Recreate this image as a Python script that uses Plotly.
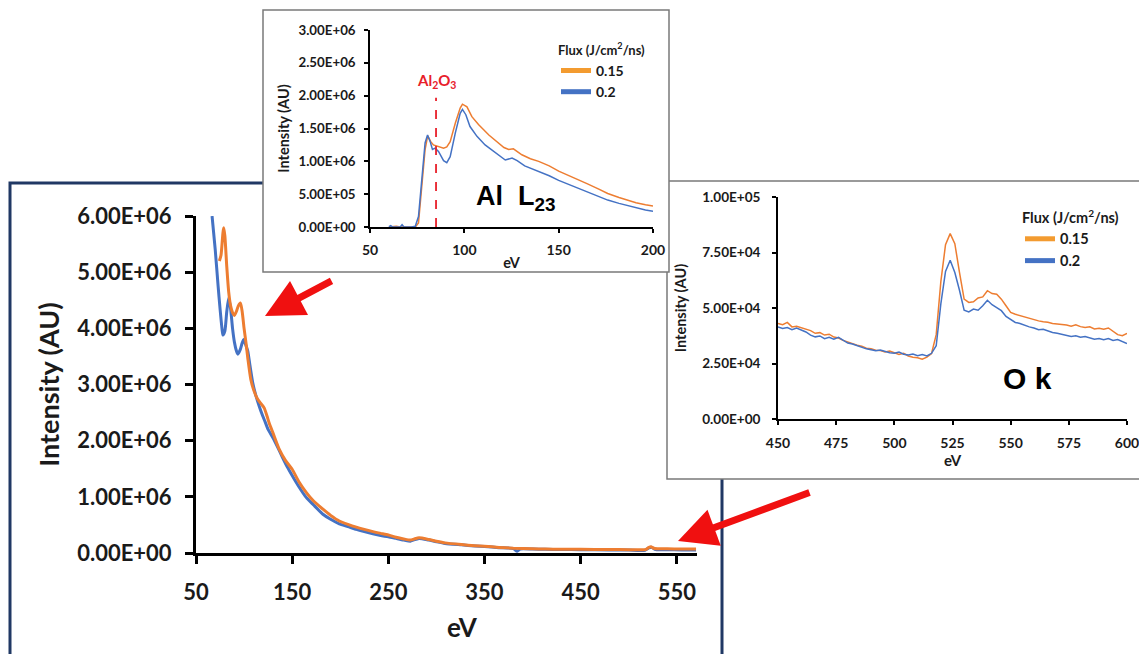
import plotly.graph_objects as go

W, H = 1139, 654

# ---------------- data ----------------
# Main spectrum (eV, intensity in units of 1e6)
MAIN_EV_BLUE = [66.7, 70, 73, 75, 77, 78, 80, 82, 84, 86, 88, 90, 92, 93.5, 96, 98, 99.7, 101, 103.8,
                106, 109, 112, 116, 119.4, 122, 125, 130, 135, 140, 145, 150, 157, 164.6, 172, 182,
                190, 199, 208, 216.7, 225, 234, 242, 250, 258, 266, 273, 276, 282, 292, 300, 309,
                326, 340, 350, 365, 380, 384, 387, 400, 413, 430, 450, 480, 500, 517, 521, 524, 528,
                540, 555, 570]
MAIN_I_BLUE = [6.00, 5.40, 4.75, 4.35, 4.00, 3.88, 3.95, 4.30, 4.54, 4.35, 4.00, 3.75, 3.60, 3.54, 3.62,
               3.74, 3.80, 3.74, 3.60, 3.35, 3.03, 2.82, 2.60, 2.44, 2.33, 2.20, 2.05, 1.88, 1.70, 1.53,
               1.38, 1.18, 0.99, 0.86, 0.69, 0.60, 0.52, 0.47, 0.42, 0.38, 0.34, 0.31, 0.29, 0.26,
               0.23, 0.21, 0.23, 0.26, 0.23, 0.20, 0.17, 0.145, 0.125, 0.115, 0.095, 0.08, 0.03,
               0.07, 0.07, 0.065, 0.062, 0.06, 0.055, 0.052, 0.05, 0.09, 0.10, 0.06, 0.06, 0.055,
               0.055]
MAIN_EV_ORANGE = [74.3, 76, 78, 78.8, 80, 82, 84, 86, 88, 89.9, 92, 94, 96.2, 98, 100, 102, 104, 107,
                  110, 114, 118, 121, 124, 126, 130, 136.5, 143, 150, 157, 164.6, 172, 182, 190, 199,
                  208, 216.7, 225, 234, 242, 250, 258, 266, 273, 277, 282, 292, 300, 309, 326, 340,
                  350, 365, 380, 400, 413, 430, 450, 480, 500, 517, 521, 523, 527, 540, 555, 570]
MAIN_I_ORANGE = [5.20, 5.30, 5.70, 5.79, 5.65, 5.10, 4.65, 4.40, 4.28, 4.23, 4.30, 4.40, 4.45, 4.30,
                 4.00, 3.74, 3.45, 3.09, 2.90, 2.74, 2.65, 2.58, 2.43, 2.32, 2.14, 1.85, 1.65, 1.49,
                 1.27, 1.08, 0.93, 0.78, 0.67, 0.57, 0.51, 0.46, 0.42, 0.38, 0.35, 0.32, 0.28, 0.25,
                 0.23, 0.25, 0.27, 0.24, 0.21, 0.18, 0.15, 0.13, 0.12, 0.10, 0.085, 0.075, 0.07,
                 0.068, 0.065, 0.062, 0.06, 0.06, 0.10, 0.11, 0.08, 0.075, 0.072, 0.07]

# Al L23 inset (eV, intensity in units of 1e6)
AL_EV_BLUE = [60, 61, 62, 66, 67, 68, 72, 74, 75.7, 77.4, 79.2, 80.5, 81.9, 83.1, 84.5, 86.3, 88, 89,
              90.7, 92.5, 95.2, 97.8, 99, 100.8, 103, 106.7, 111, 116.4, 121.7, 125.3, 128, 132,
              139.4, 145, 150, 155, 160.6, 165, 171, 176, 182, 186, 191, 196, 200]
AL_I_BLUE = [0.005, 0.02, 0.0, 0.0, 0.035, 0.0, 0.0, 0.01, 0.16, 0.77, 1.28, 1.40, 1.30, 1.18, 1.20,
             1.15, 1.05, 1.01, 0.98, 1.07, 1.43, 1.73, 1.79, 1.71, 1.53, 1.38, 1.25, 1.13, 1.02, 1.05,
             1.01, 0.93, 0.85, 0.78, 0.71, 0.65, 0.59, 0.54, 0.47, 0.41, 0.36, 0.33, 0.29, 0.26, 0.24]
AL_EV_ORANGE = [60, 64, 66, 72, 74, 75.7, 77.4, 79.2, 80.6, 82.2, 83.6, 86.3, 89, 90.7, 92.5, 95.2,
                97.8, 99, 101.4, 104, 107.5, 113, 118, 121, 123.5, 126, 130.5, 135, 139.4, 145, 150,
                155, 160.6, 165, 171, 176, 182, 186, 191, 196, 200]
AL_I_ORANGE = [0.0, 0.01, 0.0, 0.0, 0.0, 0.06, 0.57, 1.18, 1.39, 1.30, 1.25, 1.22, 1.20, 1.22, 1.30,
               1.58, 1.81, 1.87, 1.83, 1.68, 1.56, 1.40, 1.28, 1.21, 1.18, 1.19, 1.10, 1.04, 1.00,
               0.93, 0.85, 0.79, 0.72, 0.66, 0.58, 0.51, 0.45, 0.41, 0.37, 0.34, 0.32]
AL2O3_EV = 85
AL2O3_LINE_TOP = 1.97  # 1e6

# O K inset (eV, intensity in units of 1e3)
OK_EV = list(range(450, 601, 2))
OK_I_ORANGE = [43.0, 42.5, 43.5, 41.5, 41.8, 41.2, 40.3, 39.8, 38.6, 38.9, 37.8, 38.2, 36.9, 36.5,
               35.4, 34.6, 34.1, 33.2, 32.8, 31.9, 31.6, 31.0, 30.8, 30.2, 30.6, 29.8, 29.1, 29.6,
               28.4, 27.8, 27.6, 26.9, 27.9, 29.5, 38.0, 62.0, 78.5, 83.5, 79.0, 66.0, 54.0, 52.5,
               52.8, 54.5, 55.0, 57.8, 56.5, 56.2, 54.0, 51.0, 48.0, 47.2, 46.6, 45.8, 45.4, 44.9,
               44.2, 43.8, 43.6, 43.0, 42.8, 42.5, 42.3, 41.8, 42.4, 41.6, 41.2, 41.5, 40.6, 40.9,
               40.4, 41.0, 39.6, 38.0, 37.5, 38.6]
OK_I_BLUE = [41.5, 40.8, 41.2, 40.2, 41.0, 40.1, 39.2, 37.8, 37.0, 37.4, 36.2, 36.8, 35.9, 36.8,
             35.3, 34.2, 33.8, 33.0, 32.4, 31.6, 31.2, 30.8, 31.1, 30.3, 29.8, 29.6, 30.2, 29.2,
             28.8, 29.3, 28.5, 29.0, 28.4, 29.6, 33.0, 52.0, 66.5, 71.5, 66.0, 58.0, 49.0, 48.2,
             49.5, 49.0, 51.0, 53.5, 51.5, 50.2, 48.8, 46.2, 44.8, 43.5, 43.0, 42.2, 41.5, 41.0,
             40.2, 40.4, 39.6, 39.0, 38.6, 38.2, 37.9, 37.2, 37.5, 36.8, 37.2, 36.5, 35.9, 36.3,
             35.7, 36.2, 35.4, 35.8, 34.9, 34.0]

SERIES_NAMES = ["0.15", "0.2"]
LEGEND_TITLE = "Flux (J/cm<sup>2</sup>/ns)"

MAIN_X_TICKS = [50, 150, 250, 350, 450, 550]
MAIN_Y_TICKS = [0, 1e6, 2e6, 3e6, 4e6, 5e6, 6e6]
AL_X_TICKS = [50, 100, 150, 200]
AL_Y_TICKS = [0, 5e5, 1e6, 1.5e6, 2e6, 2.5e6, 3e6]
OK_X_TICKS = [450, 475, 500, 525, 550, 575, 600]
OK_Y_TICKS = [0, 2.5e4, 5e4, 7.5e4, 1e5]

# ---------------- style ----------------
ORANGE = "#ED7D31"
BLUE = "#4472C4"
ORANGE_LEG = "#F39B30"
FONT = "Lato"
TXT = "#1a1a1a"


def px_x(p):
    return p / W


def px_y(p):
    return 1 - p / H


def fmt(v):
    return f"{v:.2E}"


fig = go.Figure()

# main
fig.add_trace(go.Scatter(x=MAIN_EV_BLUE, y=[v * 1e6 for v in MAIN_I_BLUE], mode="lines",
                         line=dict(color=BLUE, width=3, shape="spline", smoothing=0.6),
                         showlegend=False, xaxis="x", yaxis="y"))
fig.add_trace(go.Scatter(x=MAIN_EV_ORANGE, y=[v * 1e6 for v in MAIN_I_ORANGE], mode="lines",
                         line=dict(color=ORANGE, width=3, shape="spline", smoothing=0.6),
                         showlegend=False, xaxis="x", yaxis="y"))

# Al inset
fig.add_trace(go.Scatter(x=AL_EV_ORANGE, y=[v * 1e6 for v in AL_I_ORANGE], mode="lines",
                         line=dict(color=ORANGE, width=1.5), showlegend=False,
                         xaxis="x2", yaxis="y2"))
fig.add_trace(go.Scatter(x=AL_EV_BLUE, y=[v * 1e6 for v in AL_I_BLUE], mode="lines",
                         line=dict(color=BLUE, width=1.5), showlegend=False,
                         xaxis="x2", yaxis="y2"))
fig.add_trace(go.Scatter(x=[AL2O3_EV, AL2O3_EV], y=[0, AL2O3_LINE_TOP * 1e6], mode="lines",
                         line=dict(color="#E8202A", width=1.8, dash="dash"), showlegend=False,
                         xaxis="x2", yaxis="y2"))

# O K inset
fig.add_trace(go.Scatter(x=OK_EV, y=[v * 1e3 for v in OK_I_ORANGE], mode="lines",
                         line=dict(color=ORANGE, width=1.5), showlegend=False,
                         xaxis="x3", yaxis="y3"))
fig.add_trace(go.Scatter(x=OK_EV, y=[v * 1e3 for v in OK_I_BLUE], mode="lines",
                         line=dict(color=BLUE, width=1.5), showlegend=False,
                         xaxis="x3", yaxis="y3"))

# legend entries
for leg, xa, ya in (("legend", "x2", "y2"), ("legend2", "x3", "y3")):
    for name, col in zip(SERIES_NAMES, [ORANGE_LEG, BLUE]):
        fig.add_trace(go.Scatter(x=[None], y=[None], mode="lines", name=name,
                                 line=dict(color=col, width=5), legend=leg,
                                 xaxis=xa, yaxis=ya))


def axis(domain, rng, tickvals, ticktext, anchor, font_size, lw, tlen, twidth,
         title=None, title_size=12, standoff=None, label_standoff=None):
    d = dict(domain=domain, range=rng, anchor=anchor, showline=True, linewidth=lw,
             linecolor="black", ticks="outside", ticklen=tlen, tickwidth=twidth,
             tickcolor="black", tickmode="array", tickvals=tickvals, ticktext=ticktext,
             tickfont=dict(family=FONT, size=font_size, color=TXT, weight="bold"),
             showgrid=False, zeroline=False, automargin=False, ticklabeloverflow="allow")
    if title:
        d["title"] = dict(text=title, font=dict(family=FONT, size=title_size, color=TXT,
                                                weight="bold"))
        if standoff is not None:
            d["title"]["standoff"] = standoff
    if label_standoff is not None:
        d["ticklabelstandoff"] = label_standoff
    return d


def overlay_axis(over, domain, rng, tickvals, anchor, tlen, twidth):
    return dict(overlaying=over, domain=domain, range=rng, anchor=anchor, showline=False,
                ticks="inside", ticklen=tlen, tickwidth=twidth, tickcolor="black",
                tickmode="array", tickvals=tickvals, showticklabels=False,
                showgrid=False, zeroline=False, automargin=False)


MX = [px_x(196), px_x(697)]
MY = [px_y(553), px_y(216)]
AX = [px_x(370), px_x(653)]
AY = [px_y(227), px_y(30)]
OX = [px_x(778), px_x(1127)]
OY = [px_y(419), px_y(197)]

MAIN_XR = [50, 571]
MAIN_YR = [0, 6e6]
AL_XR = [50, 200]
AL_YR = [0, 3e6]
OK_XR = [450, 600]
OK_YR = [0, 1e5]

layout = dict(
    width=W, height=H, margin=dict(l=0, r=0, t=0, b=0, autoexpand=False),
    paper_bgcolor="white", plot_bgcolor="rgba(0,0,0,0)",
    xaxis=axis(MX, MAIN_XR, MAIN_X_TICKS, [str(v) for v in MAIN_X_TICKS], "y", 22, 3, 8, 3,
               label_standoff=10),
    yaxis=axis(MY, MAIN_YR, MAIN_Y_TICKS, [fmt(v) for v in MAIN_Y_TICKS], "x", 22, 3, 8, 3,
               title="Intensity (AU)", title_size=27, standoff=10, label_standoff=9),
    xaxis4=overlay_axis("x", MX, MAIN_XR, MAIN_X_TICKS, "y", 8, 3),
    yaxis4=overlay_axis("y", MY, MAIN_YR, MAIN_Y_TICKS, "x", 8, 3),
    xaxis2=axis(AX, AL_XR, AL_X_TICKS, [str(v) for v in AL_X_TICKS], "y2", 14, 1.5, 4, 1.5,
                title="eV", title_size=14.5, standoff=1, label_standoff=5),
    yaxis2=axis(AY, AL_YR, AL_Y_TICKS, [fmt(v) for v in AL_Y_TICKS], "x2", 13.3, 1.5, 4, 1.5,
                title="Intensity (AU)", title_size=14.5, standoff=5, label_standoff=6),
    xaxis5=overlay_axis("x2", AX, AL_XR, AL_X_TICKS, "y2", 4, 1.5),
    yaxis5=overlay_axis("y2", AY, AL_YR, AL_Y_TICKS, "x2", 4, 1.5),
    xaxis3=axis(OX, OK_XR, OK_X_TICKS, [str(v) for v in OK_X_TICKS], "y3", 14, 1.5, 4, 1.5,
                title="eV", title_size=15, standoff=2, label_standoff=6),
    yaxis3=axis(OY, OK_YR, OK_Y_TICKS, [fmt(v) for v in OK_Y_TICKS], "x3", 13.6, 1.5, 4, 1.5,
                title="Intensity (AU)", title_size=14.5, standoff=12, label_standoff=9),
    xaxis6=overlay_axis("x3", OX, OK_XR, OK_X_TICKS, "y3", 4, 1.5),
    yaxis6=overlay_axis("y3", OY, OK_YR, OK_Y_TICKS, "x3", 4, 1.5),
    legend=dict(x=px_x(556), y=px_y(38), xanchor="left", yanchor="top",
                bgcolor="rgba(0,0,0,0)",
                title=dict(text=LEGEND_TITLE, font=dict(family=FONT, size=13, color=TXT,
                                                        weight="bold")),
                font=dict(family=FONT, size=14, color=TXT, weight="bold"),
                tracegroupgap=0),
    legend2=dict(x=px_x(1020), y=px_y(204), xanchor="left", yanchor="top",
                 bgcolor="rgba(0,0,0,0)",
                 title=dict(text=LEGEND_TITLE, font=dict(family=FONT, size=14.5, color=TXT,
                                                         weight="bold")),
                 font=dict(family=FONT, size=14.5, color=TXT, weight="bold"),
                 tracegroupgap=0),
    shapes=[
        # main panel frame
        dict(type="rect", xref="paper", yref="paper", x0=px_x(10), x1=px_x(722),
             y0=-0.1, y1=px_y(183), line=dict(color="#203864", width=3),
             fillcolor="rgba(0,0,0,0)", layer="below"),
        # O K inset frame
        dict(type="rect", xref="paper", yref="paper", x0=px_x(667), x1=1.02,
             y0=px_y(479), y1=px_y(181), line=dict(color="#7a7a7a", width=1.5),
             fillcolor="white", layer="below"),
        # Al inset frame
        dict(type="rect", xref="paper", yref="paper", x0=px_x(263), x1=px_x(669),
             y0=px_y(272), y1=px_y(10), line=dict(color="#7a7a7a", width=1.5),
             fillcolor="white", layer="below"),
    ],
    annotations=[
        # main x-axis title
        dict(x=px_x(462), y=px_y(627), xref="paper", yref="paper", text="eV",
             showarrow=False, font=dict(family=FONT, size=26, color=TXT, weight="bold"),
             xanchor="center", yanchor="middle"),
        dict(x=AL2O3_EV, y=2.22e6, xref="x2", yref="y2",
             text="Al<sub>2</sub>O<sub>3</sub>", showarrow=False,
             font=dict(family=FONT, size=15, color="#E8202A", weight="bold"),
             xanchor="center", yanchor="middle"),
        dict(x=px_x(516), y=px_y(198), xref="paper", yref="paper",
             text="Al  L<sub>23</sub>", showarrow=False,
             font=dict(family="Liberation Sans", size=27, color="black", weight="bold"),
             xanchor="center", yanchor="middle"),
        dict(x=px_x(1027), y=px_y(378), xref="paper", yref="paper",
             text="O k", showarrow=False,
             font=dict(family="Liberation Sans", size=30, color="black", weight="bold"),
             xanchor="center", yanchor="middle"),
        dict(x=px_x(265), y=px_y(316), xref="paper", yref="paper", text="",
             showarrow=True, ax=68, ay=-36, arrowhead=2, arrowsize=1.1, arrowwidth=7,
             arrowcolor="#F01010"),
        dict(x=px_x(678), y=px_y(541), xref="paper", yref="paper", text="",
             showarrow=True, ax=133, ay=-49, arrowhead=2, arrowsize=1.1, arrowwidth=7,
             arrowcolor="#F01010"),
    ],
)

fig.update_layout(**layout)
fig.write_html(
    "out.html",
    config={"displayModeBar": False},
    post_script="document.body.style.margin='0';document.body.style.overflow='hidden';",
)
